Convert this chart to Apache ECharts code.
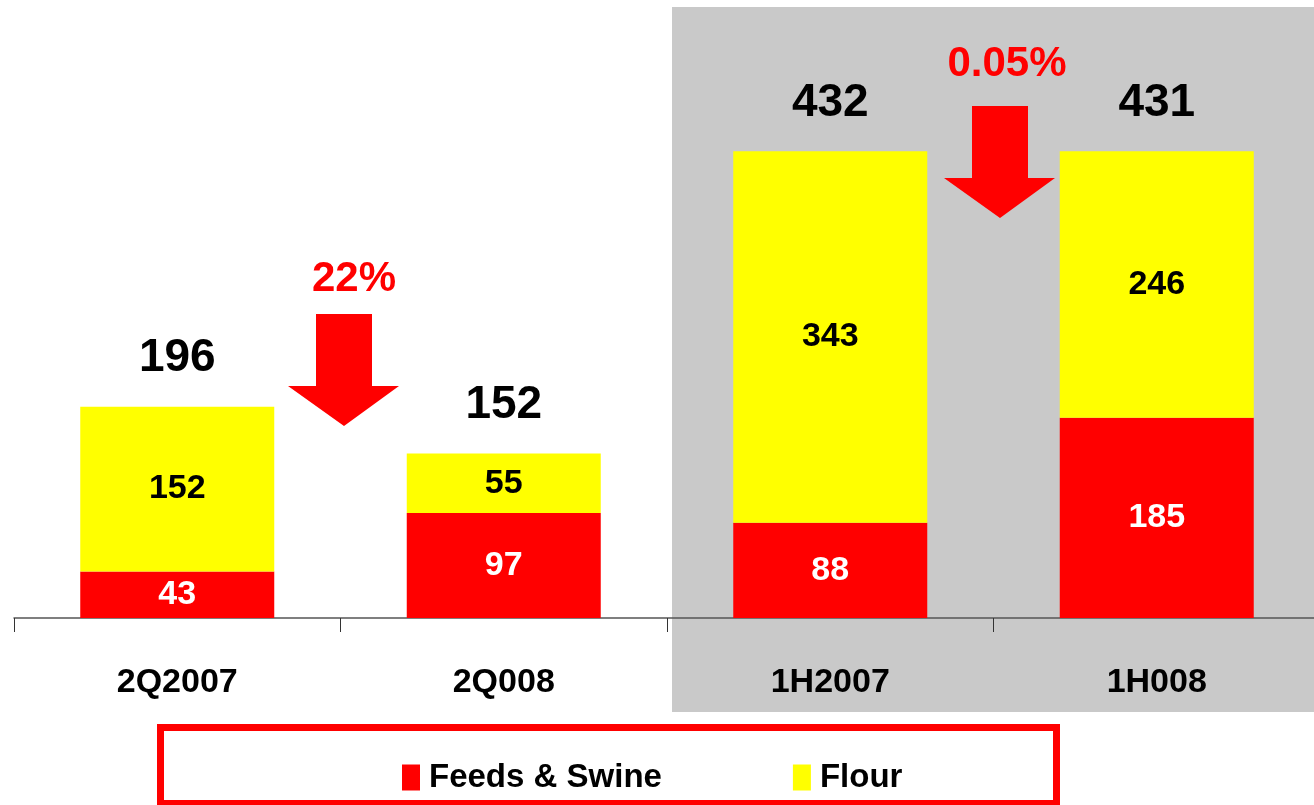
<!DOCTYPE html>
<html lang="en">
<head>
    <meta charset="UTF-8">
    <title>Feeds & Swine / Flour</title>
    <script src="https://cdn.jsdelivr.net/npm/echarts@6/dist/echarts.min.js"></script>
    <style>
        html, body { margin: 0; padding: 0; background: #fff; }
        #main { width: 1314px; height: 805px; }
    </style>
</head>
<body>
    <div id="main"></div>
    <script>
        // data
        var categories = ['2Q2007', '2Q008', '1H2007', '1H008'];
        var feedsSwine = [43, 97, 88, 185];
        var flour = [152, 55, 343, 246];
        var totals = [196, 152, 432, 431];
        var changes = ['22%', '0.05%'];

        var font = '"Liberation Sans", Arial, sans-serif';

        var chart = echarts.init(document.getElementById('main'));

        // down arrow shape, drawn as annotation
        function arrow(cx, top) {
            return [
                [cx - 28, top], [cx + 28, top], [cx + 28, top + 72],
                [cx + 55, top + 72], [cx, top + 112], [cx - 56, top + 72],
                [cx - 28, top + 72]
            ];
        }

        var option = {
            animation: false,
            grid: {
                left: 14, top: 18, right: -6, bottom: 187,
                containLabel: false,
                outerBoundsMode: 'none'
            },
            xAxis: {
                type: 'category',
                data: categories,
                axisLine: { lineStyle: { color: '#555', width: 1.5 } },
                axisTick: { show: true, length: 14, lineStyle: { color: '#333', width: 1 } },
                axisLabel: {
                    margin: 48,
                    fontFamily: font,
                    fontWeight: 'bold',
                    fontSize: 34,
                    color: '#000'
                }
            },
            yAxis: {
                type: 'value',
                min: 0,
                max: 554,
                show: false,
                splitLine: { show: false }
            },
            legend: {
                data: ['Feeds & Swine', 'Flour'],
                left: 397,
                top: 756,
                itemWidth: 18,
                itemHeight: 26,
                itemGap: 131,
                icon: 'rect',
                selectedMode: false,
                textStyle: {
                    fontFamily: font,
                    fontWeight: 'bold',
                    fontSize: 33,
                    color: '#000',
                    padding: [0, 0, 0, 4]
                }
            },
            graphic: [
                {
                    type: 'rect', z: -10, silent: true,
                    shape: { x: 672, y: 7, width: 650, height: 705 },
                    style: { fill: '#c9c9c9' }
                },
                {
                    type: 'rect', z: -10, silent: true,
                    shape: { x: 160.5, y: 727.5, width: 896, height: 76 },
                    style: { fill: '#fff', stroke: '#ff0000', lineWidth: 7 }
                },
                {
                    type: 'polygon', z: 10, silent: true,
                    shape: { points: arrow(344, 314) },
                    style: { fill: '#ff0000' }
                },
                {
                    type: 'polygon', z: 10, silent: true,
                    shape: { points: arrow(1000, 106) },
                    style: { fill: '#ff0000' }
                },
                {
                    type: 'text', z: 10, silent: true,
                    x: 354, y: 279,
                    style: {
                        text: changes[0], fill: '#ff0000', align: 'center', verticalAlign: 'middle',
                        font: 'bold 42px "Liberation Sans", Arial, sans-serif'
                    }
                },
                {
                    type: 'text', z: 10, silent: true,
                    x: 1007, y: 64,
                    style: {
                        text: changes[1], fill: '#ff0000', align: 'center', verticalAlign: 'middle',
                        font: 'bold 42px "Liberation Sans", Arial, sans-serif'
                    }
                }
            ],
            series: [
                {
                    name: 'Feeds & Swine',
                    type: 'bar',
                    stack: 'total',
                    barWidth: 194,
                    data: feedsSwine,
                    itemStyle: { color: '#ff0000' },
                    label: {
                        show: true,
                        position: 'inside',
                        color: '#fff',
                        fontFamily: font,
                        fontWeight: 'bold',
                        fontSize: 34
                    }
                },
                {
                    name: 'Flour',
                    type: 'bar',
                    stack: 'total',
                    barWidth: 194,
                    data: flour,
                    itemStyle: { color: '#ffff00' },
                    label: {
                        show: true,
                        position: 'inside',
                        color: '#000',
                        fontFamily: font,
                        fontWeight: 'bold',
                        fontSize: 34
                    }
                },
                {
                    // zero-height series only to put the totals on top
                    name: 'Total',
                    type: 'bar',
                    stack: 'total',
                    barWidth: 194,
                    data: totals.map(function () { return 0; }),
                    itemStyle: { color: 'transparent' },
                    label: {
                        show: true,
                        position: 'top',
                        distance: 25,
                        color: '#000',
                        fontFamily: font,
                        fontWeight: 'bold',
                        fontSize: 46,
                        formatter: function (p) { return totals[p.dataIndex]; }
                    }
                }
            ]
        };

        chart.setOption(option);
    </script>
</body>
</html>
